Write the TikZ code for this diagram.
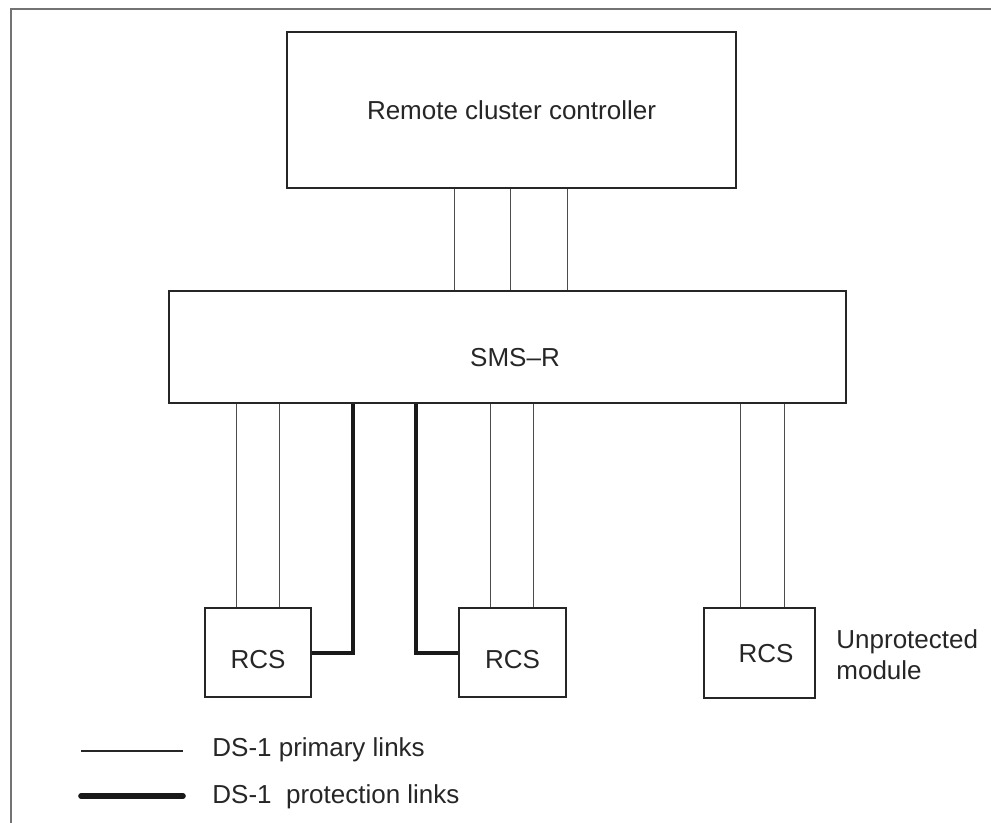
\documentclass[tikz,border=0pt]{standalone}
\usepackage{fontspec}
\setmainfont{Liberation Sans}

\begin{document}
\begin{tikzpicture}[x=0.5pt, y=-0.5pt,
  box/.style={draw=black!85, line width=0.7pt, inner sep=0pt, text depth=0pt, text=black!85, font=\fontsize{13pt}{15.5pt}\selectfont},
  plain/.style={inner sep=0pt, text=black!85, font=\fontsize{13pt}{15.5pt}\selectfont},
  primary/.style={draw=black!70, line width=0.45pt},
  protection/.style={draw=black!90, line width=2pt, line cap=round},
  frame/.style={draw=black!55, line width=0.7pt}]

\useasboundingbox (0,0) rectangle (991,823);
\draw[frame] (11,823) -- (11,9) -- (991,9);

\node[box, minimum width=224.5pt, minimum height=78pt, text height=10pt] (rcc) at (511.5,110) {Remote cluster controller};
\node[box, minimum width=338.5pt, minimum height=56pt, text height=20pt] (smsr) at (507.5,347) {\hspace*{7.5pt}SMS–R};

\node[box, minimum width=53pt, minimum height=44.5pt, text height=15.5pt] (rcs1) at (258,652.5) {RCS};
\node[box, minimum width=53.5pt, minimum height=44.5pt, text height=15.5pt] (rcs2) at (512.5,652.5) {RCS};
\node[box, minimum width=55.5pt, minimum height=45pt, text height=9pt] (rcs3) at (759.5,653) {\hspace*{6.5pt}RCS};
\node[plain, anchor=west, align=left] (unprot) at (836,655) {Unprotected\\module};

% links
\foreach \x in {454,510,567}
  \draw[primary] (\x,0 |- rcc.south) -- (\x,0 |- smsr.north);
\foreach \x in {236,279}
  \draw[primary] (\x,0 |- smsr.south) -- (\x,0 |- rcs1.north);
\foreach \x in {490,533}
  \draw[primary] (\x,0 |- smsr.south) -- (\x,0 |- rcs2.north);
\foreach \x in {740,784}
  \draw[primary] (\x,0 |- smsr.south) -- (\x,0 |- rcs3.north);

\draw[protection, line cap=butt] (rcs1.east) -| (353,0 |- smsr.south);
\draw[protection, line cap=butt] (rcs2.west) -| (416,0 |- smsr.south);

% legend
\coordinate (thinA) at (81,751);
\coordinate (thinB) at (183,751);
\coordinate (thickA) at (81,796);
\coordinate (thickB) at (183,796);
\draw[primary, draw=black!85, line width=0.9pt] (thinA) -- (thinB);
\draw[protection, line width=2.8pt] (thickA) -- (thickB);
\node[plain, anchor=base west] (primarytext) at (212,756) {DS-1 primary links};
\node[plain, anchor=base west] (protecttext) at (212,803) {DS-1\ \ protection links};

\end{tikzpicture}
\end{document}
